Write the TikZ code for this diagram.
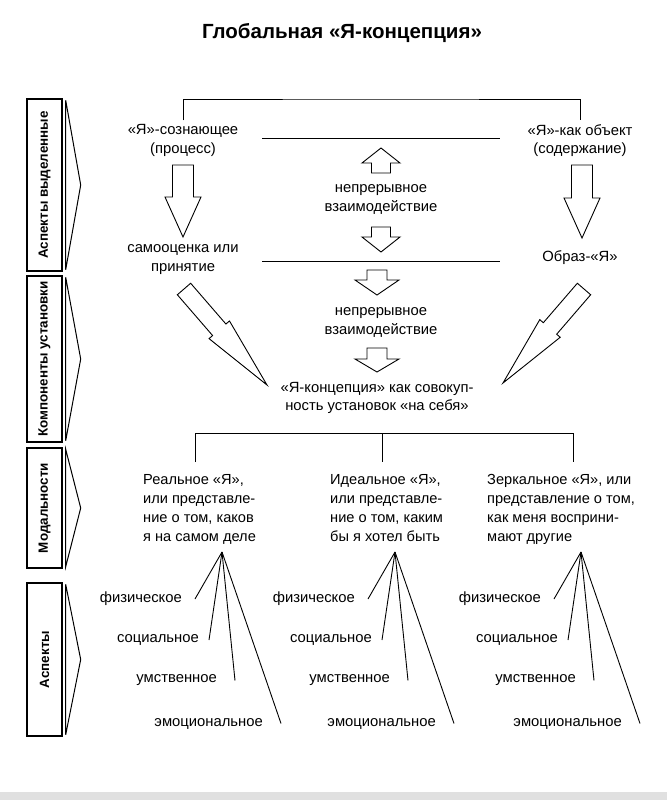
\documentclass[tikz,border=0pt]{standalone}
\usepackage{fontspec}
\setmainfont{Liberation Sans}
\usetikzlibrary{calc}
\tikzset{
  txt/.style={font=\fontsize{14.8}{18.5}\selectfont, align=center, inner sep=1pt},
  modal/.style={font=\fontsize{14.6}{19}\selectfont, align=left, inner sep=0pt, anchor=north west},
  lab/.style={font=\fontsize{14.8}{16}\selectfont, inner ysep=0pt, anchor=east},
  sidebox/.style={draw, line width=1.4pt, rotate=90, minimum height=35pt, inner sep=0pt,
     font=\fontsize{13.4}{16}\selectfont\bfseries},
  chev/.style={draw, line width=1pt, line join=miter},
  ln/.style={line width=0.9pt},
  barrow/.style={draw, line width=0.9pt, fill=white, line join=miter}
}
\newcommand\blockarr[5]{%
  \coordinate (hb) at ($(#2)!#5!(#1)$);
  \draw[barrow] ($(#1)!#3!90:(#2)$) -- ($(hb)!#3!90:(#2)$) -- ($(hb)!#4!90:(#2)$)
    -- (#2) -- ($(hb)!#4!-90:(#2)$) -- ($(hb)!#3!-90:(#2)$) -- ($(#1)!#3!-90:(#2)$) -- cycle;}
\begin{document}
\begin{tikzpicture}[x=1pt,y=-1pt]
\useasboundingbox (0,0) rectangle (667,800);
\fill[black!12] (0,792) rectangle (667,800);
% title
\node[font=\fontsize{20.5}{22}\selectfont\bfseries] (title) at (342,33) {Глобальная «Я-концепция»};
% side boxes
\node[sidebox, minimum width=172pt] (b1) at (44.5,185) {Аспекты выделенные};
\node[sidebox, minimum width=166pt] (b2) at (44.5,359) {Компоненты установки};
\node[sidebox, minimum width=120pt] (b3) at (44.5,508) {Модальности};
\node[sidebox, minimum width=153pt] (b4) at (44.5,659.5) {Аспекты};
\foreach \b in {b1,b2,b3,b4}{
  \draw[chev] ($(\b.south east)+(3,2)$) -- ($(\b.south)+(18,0)$) -- ($(\b.south west)+(3,-2)$) -- cycle;
}
% top row
\node[txt, inner ysep=4pt] (ys) at (183,140.5) {«Я»-сознающее\\(процесс)};
\node[txt, inner ysep=4pt] (yo) at (580,140.5) {«Я»-как объект\\(содержание)};
\coordinate (bar) at (380,99);
\draw[ln] (ys.north) |- (bar) -| (yo.north);
\coordinate (h1a) at (262,138); \coordinate (h1b) at (500,138);
\coordinate (h2a) at (262,261); \coordinate (h2b) at (500,261);
\draw[ln] (h1a) -- (h1b);
\draw[ln] (h2a) -- (h2b);
% vertical block arrows
\coordinate (va1) at (183,165); \coordinate (va2) at (183,237);
\coordinate (vb1) at (582,165); \coordinate (vb2) at (582,238);
\blockarr{va1}{va2}{10.5pt}{18pt}{40pt}
\blockarr{vb1}{vb2}{10.5pt}{18pt}{40pt}
\node[txt] (sa) at (183,259.5) {самооценка или\\принятие};
\node[txt] (ob) at (580,258) {Образ-«Я»};
% centre
\coordinate (c1a) at (381,173); \coordinate (c1b) at (381,148);
\blockarr{c1a}{c1b}{9.5pt}{19pt}{15pt}
\node[txt] (ni1) at (381,199.5) {непрерывное\\взаимодействие};
\coordinate (c2a) at (381,227); \coordinate (c2b) at (381,252);
\blockarr{c2a}{c2b}{9.5pt}{19pt}{15pt}
\coordinate (c3a) at (377,270); \coordinate (c3b) at (377,295);
\blockarr{c3a}{c3b}{10pt}{22pt}{15pt}
\node[txt] (ni2) at (381,322.5) {непрерывное\\взаимодействие};
\coordinate (c4a) at (377,348); \coordinate (c4b) at (377,372);
\blockarr{c4a}{c4b}{10pt}{22pt}{13pt}
\node[txt] (conc) at (377,398) {«Я-концепция» как совокуп-\\ность установок «на себя»};
% diagonal arrows
\coordinate (d1a) at (184,289); \coordinate (d1b) at (267,385);
\blockarr{d1a}{d1b}{8.8pt}{13.5pt}{73pt}
\coordinate (d2a) at (584,289); \coordinate (d2b) at (503,383);
\blockarr{d2a}{d2b}{8.8pt}{13.5pt}{72pt}
% branch
\coordinate (br1) at (195,433); \coordinate (br2) at (382,433); \coordinate (br3) at (573,433);
\draw[ln] ($(br1)+(0,29)$) -- (br1) -- (br3) -- ++(0,29);
\draw[ln] (br2) -- ++(0,29);
% modalities
\node[modal] (m1) at (143,474) {Реальное «Я»,\\или представле-\\ние о том, каков\\я на самом деле};
\node[modal] (m2) at (330,474) {Идеальное «Я»,\\или представле-\\ние о том, каким\\бы я хотел быть};
\node[modal] (m3) at (487,474) {Зеркальное «Я», или\\представление о том,\\как меня восприни-\\мают другие};
% fans
\foreach \a/\n in {222/1,395/2,581/3}{
  \coordinate (ap\n) at (\a,552);
  \node[lab, inner xsep=13pt] (f\n) at (\a-27,599) {физическое};
  \node[lab, inner xsep=10pt] (s\n) at (\a-13,640) {социальное};
  \node[lab, inner xsep=18pt] (u\n) at (\a+13,680.5) {умственное};
  \node[lab, inner xsep=18pt] (e\n) at (\a+59,723.5) {эмоциональное};
  \draw[ln] (ap\n) -- (f\n.east);
  \draw[ln] (ap\n) -- (s\n.east);
  \draw[ln] (ap\n) -- (u\n.east);
  \draw[ln] (ap\n) -- (e\n.east);
}
\end{tikzpicture}
\end{document}
